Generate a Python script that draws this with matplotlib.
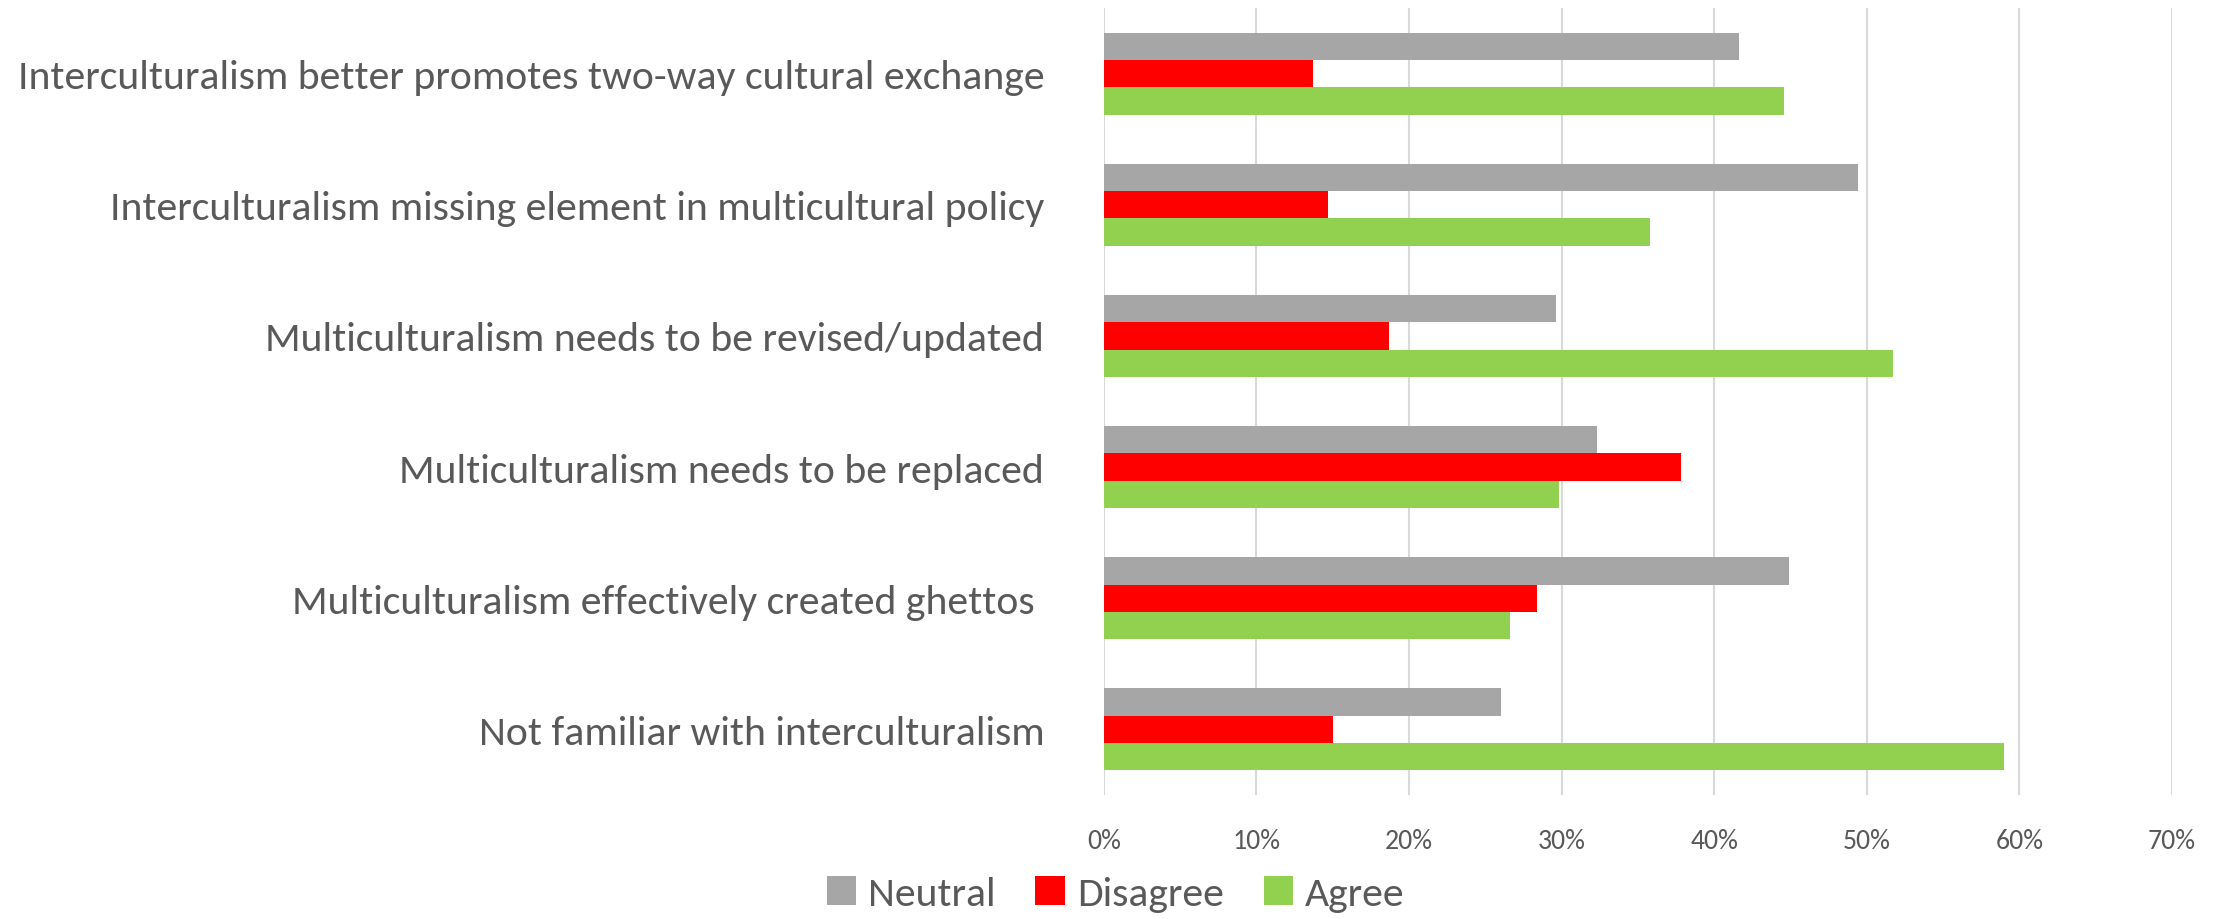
import numpy as np
import matplotlib.pyplot as plt
from matplotlib.ticker import FuncFormatter

plt.rcParams['font.family'] = ['Carlito', 'Lato', 'DejaVu Sans']

# ---- Data (share of respondents, %) ----
statements = [
    'Interculturalism better promotes two-way cultural exchange',
    'Interculturalism missing element in multicultural policy',
    'Multiculturalism needs to be revised/updated',
    'Multiculturalism needs to be replaced',
    'Multiculturalism effectively created ghettos ',
    'Not familiar with interculturalism',
]
neutral = [41.6, 49.4, 29.6, 32.3, 44.9, 26.0]
disagree = [13.7, 14.7, 18.7, 37.8, 28.4, 15.0]
agree = [44.6, 35.8, 51.7, 29.8, 26.6, 59.0]

series = [('Neutral', neutral, '#a6a6a6'),
          ('Disagree', disagree, '#ff0000'),
          ('Agree', agree, '#92d050')]

text_color = '#595959'

fig = plt.figure(figsize=(22.18, 9.2), dpi=100)
ax = fig.add_axes([0.4977, 0.1348, 0.4816, 0.8554])

y = np.arange(len(statements))
bar_h = 0.208

for i, (name, vals, color) in enumerate(series):
    ax.barh(y + (i - 1) * bar_h, vals, height=bar_h, color=color,
            label=name, zorder=3)

ax.set_ylim(len(statements) - 0.5, -0.5)
ax.set_xlim(0, 70)
ax.set_xticks(np.arange(0, 71, 10))
ax.xaxis.set_major_formatter(FuncFormatter(lambda v, pos: f'{v:.0f}%'))
ax.set_yticks(y)
ax.set_yticklabels(statements)

ax.grid(axis='x', color='#d9d9d9', linewidth=1.5, zorder=0)
for s in ax.spines.values():
    s.set_visible(False)
ax.tick_params(axis='x', length=0, pad=24, labelsize=20, labelcolor=text_color)
ax.tick_params(axis='y', length=0, pad=43, labelsize=30.1, labelcolor=text_color)

fig.legend(loc='center', bbox_to_anchor=(0.503, 0.027), ncol=3,
           frameon=False, fontsize=30, labelcolor=text_color,
           handlelength=0.7, handleheight=0.7, handletextpad=0.3,
           columnspacing=0.95)

fig.savefig('out.png', dpi=100)
